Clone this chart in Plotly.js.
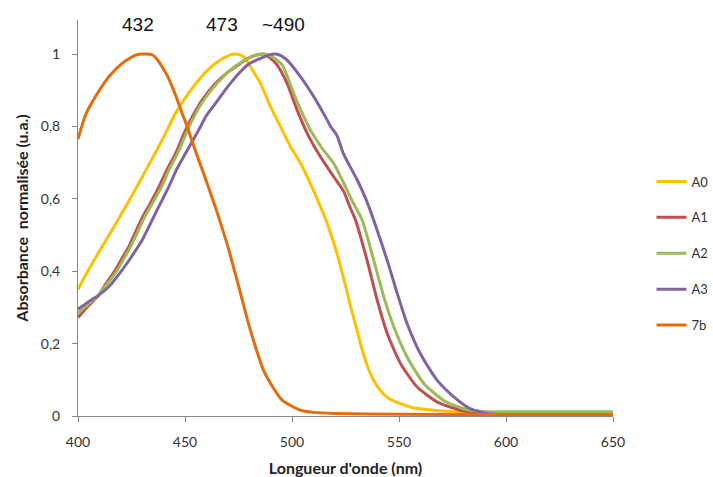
<!DOCTYPE html>
<html>
<head>
<meta charset="utf-8">
<script src="https://cdn.plot.ly/plotly-3.0.1.min.js"></script>
<style>html,body{margin:0;padding:0;background:#fff;}#chart{width:713px;height:477px;}</style>
</head>
<body>
<div id="chart"></div>
<script>
// Wavelength (nm) and normalised absorbance
const seriesNames = ["A0", "A1", "A2", "A3", "7b"];

const a0X = [400,405,410,415,420,425,430,435,440,445,450,455,460,465,470,473,476,478,480.6,485.3,490,494.6,499.3,504,508.6,513.3,516,518,520.5,522.7,525,527.3,530,532.5,535.1,538,541.4,545,550.7,557,566.2,580,600,650];
const a0Y = [0.35,0.405,0.455,0.505,0.555,0.607,0.66,0.715,0.77,0.83,0.878,0.918,0.952,0.978,0.995,1.0,0.997,0.99,0.965,0.919,0.854,0.8,0.744,0.698,0.642,0.578,0.54,0.505,0.46,0.412,0.36,0.305,0.245,0.19,0.14,0.1,0.07,0.05,0.034,0.022,0.016,0.01,0.008,0.008];

const a1X = [400,405,409.7,413,417.5,420.5,423.7,427,430,434,437.8,441.5,445.6,449.5,453.4,458,464.3,470,475.9,480,484,486.5,489.5,493,497.7,502.4,507.1,513.3,519.5,524.2,527,529.7,535.1,539.8,544.5,550.7,558.5,567.8,578.7,590,600,650];
const a1Y = [0.272,0.305,0.334,0.365,0.403,0.435,0.467,0.51,0.548,0.59,0.633,0.68,0.725,0.78,0.827,0.873,0.919,0.95,0.974,0.99,0.998,1.0,0.99,0.97,0.919,0.845,0.781,0.716,0.661,0.62,0.578,0.541,0.43,0.32,0.228,0.145,0.08,0.039,0.016,0.007,0.005,0.005];

const a2X = [400,405,409.7,413,417.5,421,424.5,428,431,435,439,442.5,446.5,450.5,454.2,458.8,465,471,477,482,486.8,490.5,495.4,500.8,504.5,508.6,514,519.5,524.2,528.5,532.8,538.2,542.9,547.6,553.8,561.6,570.9,580.3,590,600,650];
const a2Y = [0.284,0.31,0.334,0.36,0.395,0.43,0.467,0.51,0.548,0.59,0.633,0.68,0.725,0.78,0.827,0.873,0.919,0.955,0.98,0.995,1.0,0.993,0.97,0.891,0.84,0.79,0.74,0.698,0.643,0.59,0.541,0.43,0.329,0.246,0.163,0.09,0.043,0.02,0.012,0.012,0.012];

const a3X = [400,405,409.7,414.4,420.6,425,430,432.3,436.2,442.4,446,450.2,456.4,460,464.3,470,475.9,480,485.3,489,492.3,495,497.7,504,510.2,516.4,518,521,524,530.5,534.5,538.2,544.5,549.2,553.8,560,567.8,575.6,583.4,592,600,650];
const a3Y = [0.295,0.316,0.334,0.357,0.403,0.44,0.486,0.513,0.56,0.633,0.68,0.725,0.79,0.83,0.864,0.91,0.951,0.973,0.988,0.997,1.0,0.995,0.983,0.937,0.882,0.818,0.8,0.775,0.725,0.652,0.6,0.541,0.43,0.338,0.255,0.172,0.099,0.053,0.02,0.006,0.003,0.003];

const b7X = [400,402,404,406.5,409.7,414.4,420.6,426.9,431,434.7,437,439.3,442,444,446.5,448.7,451,453,456.4,459,461.1,464.3,466.5,469.7,472.5,475,479,483,486.7,490,495.5,500,504,510,520,550,600,650];
const b7Y = [0.765,0.805,0.838,0.866,0.897,0.937,0.974,0.997,1.0,0.998,0.985,0.965,0.937,0.91,0.872,0.836,0.8,0.765,0.707,0.665,0.63,0.575,0.535,0.475,0.415,0.36,0.27,0.19,0.126,0.09,0.043,0.027,0.016,0.01,0.007,0.005,0.004,0.004];

const xTickVals = [400,450,500,550,600,650];
const yTickVals = [0,0.2,0.4,0.6,0.8,1];
const peakLabels = ["432", "473", "~490"];
const peakLabelX = [427.9, 467.4, 496.2];

const colors = ["#FFC000", "#C0504D", "#9BBB59", "#8064A2", "#E46C0A"];
const xs = [a0X, a1X, a2X, a3X, b7X];
const ys = [a0Y, a1Y, a2Y, a3Y, b7Y];

const traces = seriesNames.map((n, i) => ({
  x: xs[i], y: ys[i], name: n, type: "scatter", mode: "lines",
  legendgroup: n,
  line: {color: colors[i], width: 3, shape: "spline", smoothing: 0.6}
}));

const fontFam = "Lato, 'Open Sans', sans-serif";
const tickFont = {family: fontFam, size: 14, color: "#333"};
const layout = {
  width: 713, height: 477,
  margin: {l: 78, r: 100, t: 20, b: 61, autoexpand: false},
  paper_bgcolor: "#fff", plot_bgcolor: "#fff",
  separators: ", ",
  showlegend: true,
  legend: {
    x: 1.072, xanchor: "left", y: 0.63, yanchor: "top",
    traceorder: "grouped", tracegroupgap: 16,
    font: {family: fontFam, size: 13, color: "#333"},
    bgcolor: "rgba(0,0,0,0)", borderwidth: 0
  },
  xaxis: {
    range: [400, 650], tickvals: xTickVals, ticks: "outside", ticklen: 5,
    tickcolor: "#868686", showline: true, linecolor: "#868686", linewidth: 1,
    showgrid: false, zeroline: false, tickfont: tickFont, ticklabelstandoff: 8,
    title: {text: "Longueur d'onde (nm)", font: {family: fontFam, size: 16, color: "#222", weight: "bold"}, standoff: 18}
  },
  yaxis: {
    range: [0, 1.094], tickvals: yTickVals, ticks: "outside", ticklen: 5,
    tickcolor: "#868686", showline: true, linecolor: "#868686", linewidth: 1,
    showgrid: false, zeroline: false, tickfont: tickFont, ticklabelstandoff: 9,
    title: {text: "Absorbance  normalisée (u.a.)", font: {family: fontFam, size: 16, color: "#222", weight: "bold"}, standoff: 8}
  },
  annotations: peakLabels.map((t, i) => ({
    text: t, x: peakLabelX[i], xref: "x", y: 1.082, yref: "y",
    showarrow: false, xanchor: "center", yanchor: "middle",
    font: {family: "'Liberation Sans', Arial, sans-serif", size: 19, color: "#111"}
  }))
};

Plotly.newPlot("chart", traces, layout, {displayModeBar: false, staticPlot: true});
</script>
</body>
</html>
